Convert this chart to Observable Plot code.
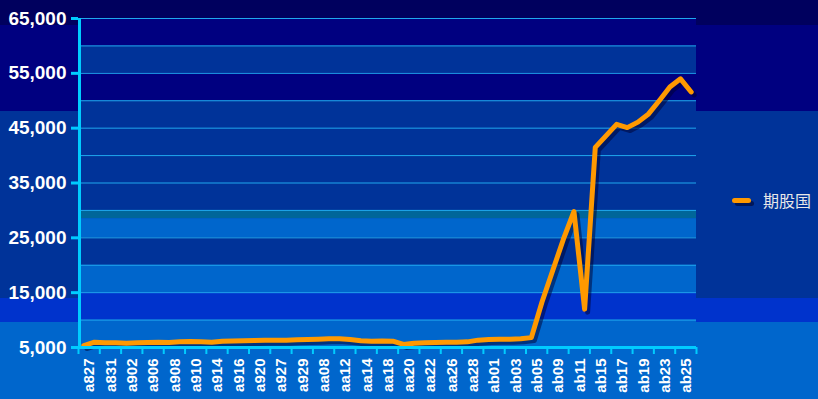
<!DOCTYPE html>
<html>
<head>
<meta charset="utf-8">
<script src="https://cdn.jsdelivr.net/npm/d3@7"></script>
<script src="https://cdn.jsdelivr.net/npm/@observablehq/plot@0.6"></script>
<style>
  html, body { margin: 0; padding: 0; background: #0066cc; }
  #wrap { position: relative; width: 818px; height: 399px; overflow: hidden; }
  #legend { position: absolute; left: 732px; top: 189px; height: 22px; display: flex; align-items: center; }
  #legend .sw { width: 19px; height: 5px; border-radius: 3px; background: #ff9900; box-shadow: 3px 3px 0 rgba(0,0,40,0.55); }
  #legend .lb { margin-left: 12px; font-family: "Noto Sans CJK SC", sans-serif; font-size: 16px; color: #e8e8e8; }
</style>
</head>
<body>
<div id="wrap"><div id="legend"><div class="sw"></div><div class="lb"></div></div></div>
<script>
// ---- data ----
const seriesName = "期股国";
const tickLabels = ["a827","a831","a902","a906","a908","a910","a914","a916","a920","a927","a929","aa08","aa12","aa14","aa18","aa20","aa22","aa26","aa28","ab01","ab03","ab05","ab09","ab11","ab15","ab17","ab19","ab23","ab25"];
const values = [
  5360, 5970, 5860, 5860, 5790, 5860, 5910, 5970, 5910, 6030,
  6090, 6030, 5970, 6150, 6180, 6220, 6280, 6340, 6340, 6340,
  6400, 6460, 6520, 6580, 6580, 6460, 6220, 6150, 6200, 6150,
  5550, 5790, 5860, 5910, 5970, 5970, 6030, 6340, 6460, 6520,
  6520, 6580, 6800, 13300, 19000, 24700, 29800, 12000, 41500, 43600,
  45700, 45100, 46100, 47600, 50000, 52500, 54000, 51600
];
const yTickLabels = [5000, 15000, 25000, 35000, 45000, 55000, 65000];
const gridValues = [10000, 15000, 20000, 25000, 30000, 35000, 40000, 45000, 50000, 55000, 60000, 65000];
// background band edges (data units) and their fills
const bandLo = [60000, 55000, 50000, 30000, 28500, 25000, 20000, 15000, 10000, 5000];
const bandHi = [65000, 60000, 55000, 50000, 30000, 28500, 25000, 20000, 15000, 10000];

// ---- styles ----
const bandFills = ["#000080", "#003399", "#000080", "#003399", "#006699", "#0066cc", "#003399", "#0066cc", "#0033cc", "#0066cc"];
const cyan = "#00ccff";
const gridColor = "#1fa8ee";

const n = values.length;
const pts = values.map((v, i) => ({x: i + 0.5, y: v}));
const bands = bandLo.map((lo, i) => ({lo, hi: bandHi[i], fill: bandFills[i]}));
const tickPos = d3.range(0, n + 1, 2);
const labelPos = tickLabels.map((_, i) => i * 2 + 0.5);

const chart = Plot.plot({
  width: 818,
  height: 399,
  marginLeft: 78,
  marginRight: 122,
  marginTop: 18,
  marginBottom: 52,
  x: {domain: [0, n], axis: null},
  y: {domain: [5000, 65000], axis: null},
  color: {type: "identity"},
  style: {
    background: "linear-gradient(to bottom, #00005e 0px, #00005e 25px, #000080 25px, #000080 111px, #003399 111px, #003399 298px, #0033cc 298px, #0033cc 322px, #0066cc 322px, #0066cc 399px)",
    fontFamily: "'Liberation Sans', Arial, sans-serif",
    overflow: "visible"
  },
  marks: [
    Plot.rect(bands, {x1: 0, x2: n, y1: "lo", y2: "hi", fill: "fill"}),
    Plot.ruleY(gridValues, {stroke: gridColor, strokeWidth: 1}),
    Plot.line(pts, {x: "x", y: "y", stroke: "#000030", strokeOpacity: 0.5, strokeWidth: 5, dx: 3, dy: 3, strokeLinejoin: "round", strokeLinecap: "round"}),
    Plot.line(pts, {x: "x", y: "y", stroke: "#ff9900", strokeWidth: 5, strokeLinejoin: "round", strokeLinecap: "round"}),
    Plot.ruleX([0], {stroke: cyan, strokeWidth: 3, dx: 1}),
    Plot.ruleY([5000], {stroke: cyan, strokeWidth: 3}),
    Plot.axisY(yTickLabels, {tickSize: 7, tickPadding: 5, stroke: cyan, strokeWidth: 3, fill: "white", fontSize: 19, fontWeight: "bold", tickFormat: d3.format(","), label: null}),
    Plot.axisX(tickPos, {tickSize: 7, stroke: cyan, strokeWidth: 2, tickFormat: () => "", label: null}),
    Plot.axisX(labelPos, {tickSize: 0, tickPadding: 11, rotate: -90, textAnchor: "end", fontSize: 15, fontWeight: "bold", fill: "white", tickFormat: d => tickLabels[Math.round((d - 0.5) / 2)], label: null})
  ]
});
document.getElementById("wrap").prepend(chart);
document.querySelector("#legend .lb").textContent = seriesName;
</script>
</body>
</html>
